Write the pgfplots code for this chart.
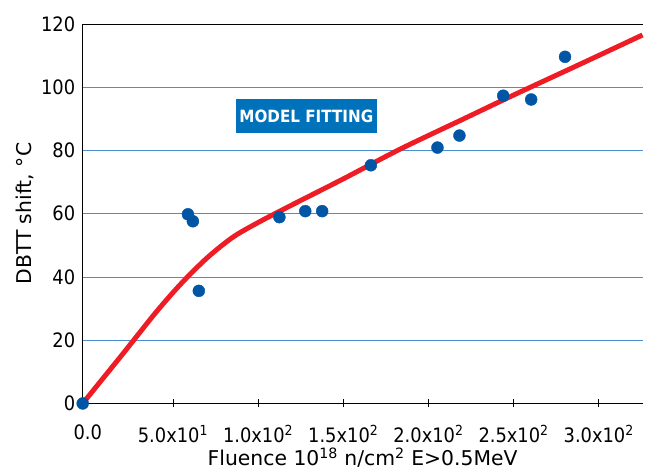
\documentclass[border=0pt]{standalone}
\usepackage{pgfplots}
\pgfplotsset{compat=1.18}
\usepackage{fontspec}
\setmainfont{DejaVu Sans Condensed}
\newfontfamily\labelfont{DejaVu Sans}

\definecolor{dotblue}{HTML}{0055A5}
\definecolor{fitred}{HTML}{EE1C25}
\definecolor{gridblue}{HTML}{4A90D0}
\definecolor{boxblue}{HTML}{0072BC}

\begin{document}
\begin{tikzpicture}
\begin{axis}[
  scale only axis,
  width=562bp, height=381bp,
  xmin=-3, xmax=325.7,
  ymin=0, ymax=120,
  axis x line=bottom, axis y line=left,
  axis line style={-, line width=0.8pt},
  xtick={0,50,100,150,200,250,300},
  xticklabels={0.0, 5.0x10\textsuperscript{1}, 1.0x10\textsuperscript{2}, 1.5x10\textsuperscript{2}, 2.0x10\textsuperscript{2}, 2.5x10\textsuperscript{2}, 3.0x10\textsuperscript{2}},
  xtick align=center,
  major tick length=8bp,
  x tick style={black, line width=0.6pt},
  xticklabel style={yshift=-14bp},
  ytick={0,20,...,120},
  y tick style={draw=none},
  ymajorgrids,
  grid style={gridblue, line width=0.8pt},
  /pgf/number format/assume math mode=true,
  tick label style={font=\fontsize{20}{23}\selectfont},
  xlabel={\labelfont Fluence 10\textsuperscript{18} n/cm\textsuperscript{2} E>0.5MeV},
  ylabel={\labelfont DBTT shift, °C},
  label style={font=\fontsize{20.5}{23}\selectfont},
  xlabel style={yshift=2bp},
  clip=false,
]
\addplot[fitred, line width=5pt, smooth, tension=0.5] coordinates {
  (-3,0) (20,15.3) (40,28.8) (55,38) (70,46) (85,52.5) (100,57.2)
  (120,62.8) (150,71) (183,80.3) (220,89.8) (250,97.5) (290,107.5) (325.7,116.5)
};
\addplot[only marks, mark=*, mark size=6bp, color=dotblue] coordinates {
  (-3,0) (58.8,59.8) (61.7,57.6) (65.2,35.6) (112.5,58.9) (127.7,60.8)
  (137.6,60.8) (166.2,75.3) (205.3,80.9) (218.2,84.7) (243.9,97.3)
  (260.3,96.1) (280.2,109.6)
};
\node[fill=boxblue, text=white, minimum width=142bp, minimum height=35bp,
  inner sep=0pt, font=\bfseries\fontsize{17}{19}\selectfont]
  at (axis cs:128.3,90.9) {MODEL FITTING};
\draw[line width=0.8pt] (rel axis cs:0,1) -- (rel axis cs:1,1);
\coordinate (ll) at (rel axis cs:0,0);
\coordinate (ur) at (rel axis cs:1,1);
\end{axis}
\path ([shift={(-83bp,-70bp)}]ll) rectangle ([shift={(0bp,24bp)}]ur);
\end{tikzpicture}
\end{document}
